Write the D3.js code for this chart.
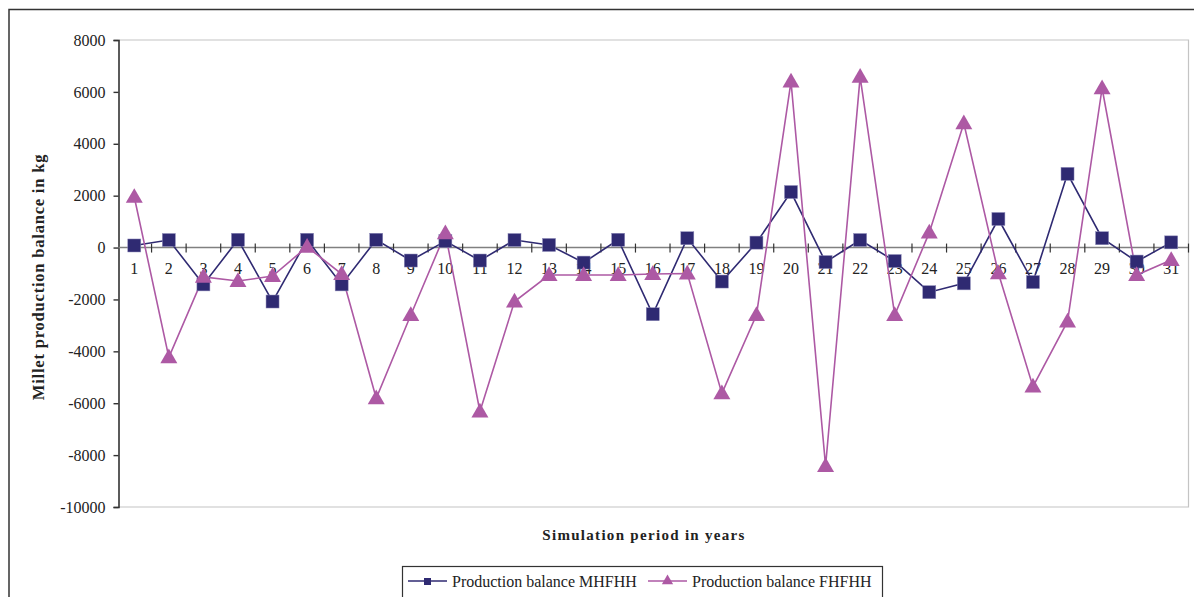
<!DOCTYPE html>
<html><head><meta charset="utf-8">
<script src="https://cdn.jsdelivr.net/npm/d3@7/dist/d3.min.js"></script>
<style>body{margin:0;background:#fff}svg{display:block}text{font-family:"Liberation Serif","Times New Roman",serif;fill:#222}</style>
</head><body><svg id="c" width="1194" height="597"></svg>
<script>
const years = d3.range(1, 32);
const mhfhh = [80,290,-1420,300,-2080,300,-1420,300,-500,250,-500,290,100,-580,300,-2570,360,-1310,190,2140,-560,290,-520,-1720,-1380,1100,-1330,2840,360,-540,200];
const fhfhh = [1950,-4230,-1130,-1290,-1100,30,-1020,-5810,-2600,550,-6320,-2080,-1060,-1060,-1060,-1020,-1000,-5620,-2600,6400,-8420,6580,-2600,575,4790,-990,-5360,-2850,6140,-1060,-480];
const yTicks = [8000,6000,4000,2000,0,-2000,-4000,-6000,-8000,-10000];
const seriesNames = ["Production balance MHFHH","Production balance FHFHH"];
const colors = ["#2f2a72","#ad59a4"];
const SERIF = '"Liberation Serif","Times New Roman",serif';

const svg = d3.select("#c");
const L = 118.5, R = 1188.5, T = 40, B = 507;
const x = d3.scaleBand().domain(years).range([L-1.5, R]);
const y = d3.scaleLinear().domain([-10000, 8000]).range([B, T]);

// outer frame
svg.append("path").attr("d","M9,600 V9.5 H1200").attr("fill","none").attr("stroke","#333").attr("stroke-width",1.5);
// plot border (light)
svg.append("path").attr("d",`M${L},${T} H${R} V${B} H${L}`).attr("fill","none").attr("stroke","#c4c4c4").attr("stroke-width",1.2);

// y axis
const yAxis = svg.append("g").attr("transform",`translate(${L},0)`)
  .call(d3.axisLeft(y).tickValues(yTicks).tickSize(5).tickPadding(8).tickFormat(d => String(d)));
yAxis.attr("font-family",SERIF).attr("font-size",16);
yAxis.select(".domain").attr("stroke","#333").attr("stroke-width",1.6);
yAxis.selectAll(".tick line").attr("stroke","#333").attr("stroke-width",1.4);
yAxis.selectAll("text").attr("fill","#222");

// zero line with crossing ticks
const y0 = y(0);
const xAxis = svg.append("g").attr("transform",`translate(0,${y0})`)
  .call(d3.axisBottom(x).tickSize(0).tickPadding(14));
xAxis.attr("font-family",SERIF).attr("font-size",16);
xAxis.select(".domain").remove();
svg.append("line").attr("x1",L).attr("x2",R).attr("y1",y0).attr("y2",y0).attr("stroke","#808080").attr("stroke-width",1.6);
const tickPos = years.map(d => x(d) + x.bandwidth());
svg.append("g").selectAll("line").data(tickPos).join("line")
  .attr("x1",d=>d).attr("x2",d=>d).attr("y1",y0-4).attr("y2",y0+5).attr("stroke","#333").attr("stroke-width",1.2);
xAxis.selectAll("text").attr("fill","#222").attr("dy","0.75em");

const cx = d => x(d) + x.bandwidth()/2;
const line = d3.line().x((d,i)=>cx(years[i])).y(d=>y(d));

// series lines
svg.append("path").datum(mhfhh).attr("d",line).attr("fill","none").attr("stroke",colors[0]).attr("stroke-width",1.6);
svg.append("path").datum(fhfhh).attr("d",line).attr("fill","none").attr("stroke",colors[1]).attr("stroke-width",1.6);

// markers
svg.append("g").selectAll("rect").data(mhfhh).join("rect")
  .attr("x",(d,i)=>cx(years[i])-6.5).attr("y",d=>y(d)-6.5).attr("width",13).attr("height",13)
  .attr("fill",colors[0]).attr("stroke","#8c89b8").attr("stroke-width",0.5);
const tri = d3.symbol().type(d3.symbolTriangle).size(125);
svg.append("g").selectAll("path").data(fhfhh).join("path")
  .attr("transform",(d,i)=>`translate(${cx(years[i])},${y(d)+1})`).attr("d",tri)
  .attr("fill",colors[1]);

// titles
svg.append("text").attr("x",644).attr("y",540).attr("text-anchor","middle")
  .attr("font-size",15).attr("font-weight","bold").attr("letter-spacing","1.3px").text("Simulation period in years");
svg.append("text").attr("transform","translate(44,277) rotate(-90)").attr("text-anchor","middle")
  .attr("font-size",16.5).attr("font-weight","bold").attr("letter-spacing","0.8px").text("Millet production balance in kg");

// legend
const lg = svg.append("g");
lg.append("rect").attr("x",402.5).attr("y",566.5).attr("width",480).attr("height",34).attr("fill","#fff").attr("stroke","#333").attr("stroke-width",1.2);
const items = [{x:408, tx:452},{x:648, tx:692}];
items.forEach((it,i)=>{
  lg.append("line").attr("x1",it.x).attr("x2",it.x+39).attr("y1",581).attr("y2",581).attr("stroke",colors[i]).attr("stroke-width",1.6);
  if(i===0) lg.append("rect").attr("x",it.x+16).attr("y",578).attr("width",7).attr("height",7).attr("fill",colors[0]);
  else lg.append("path").attr("transform",`translate(${it.x+19.5},581)`).attr("d",d3.symbol().type(d3.symbolTriangle).size(55)).attr("fill",colors[1]);
  lg.append("text").attr("x",it.tx).attr("y",586.5).attr("font-size",16).attr("letter-spacing","0px").text(seriesNames[i]);
});
</script></body></html>
